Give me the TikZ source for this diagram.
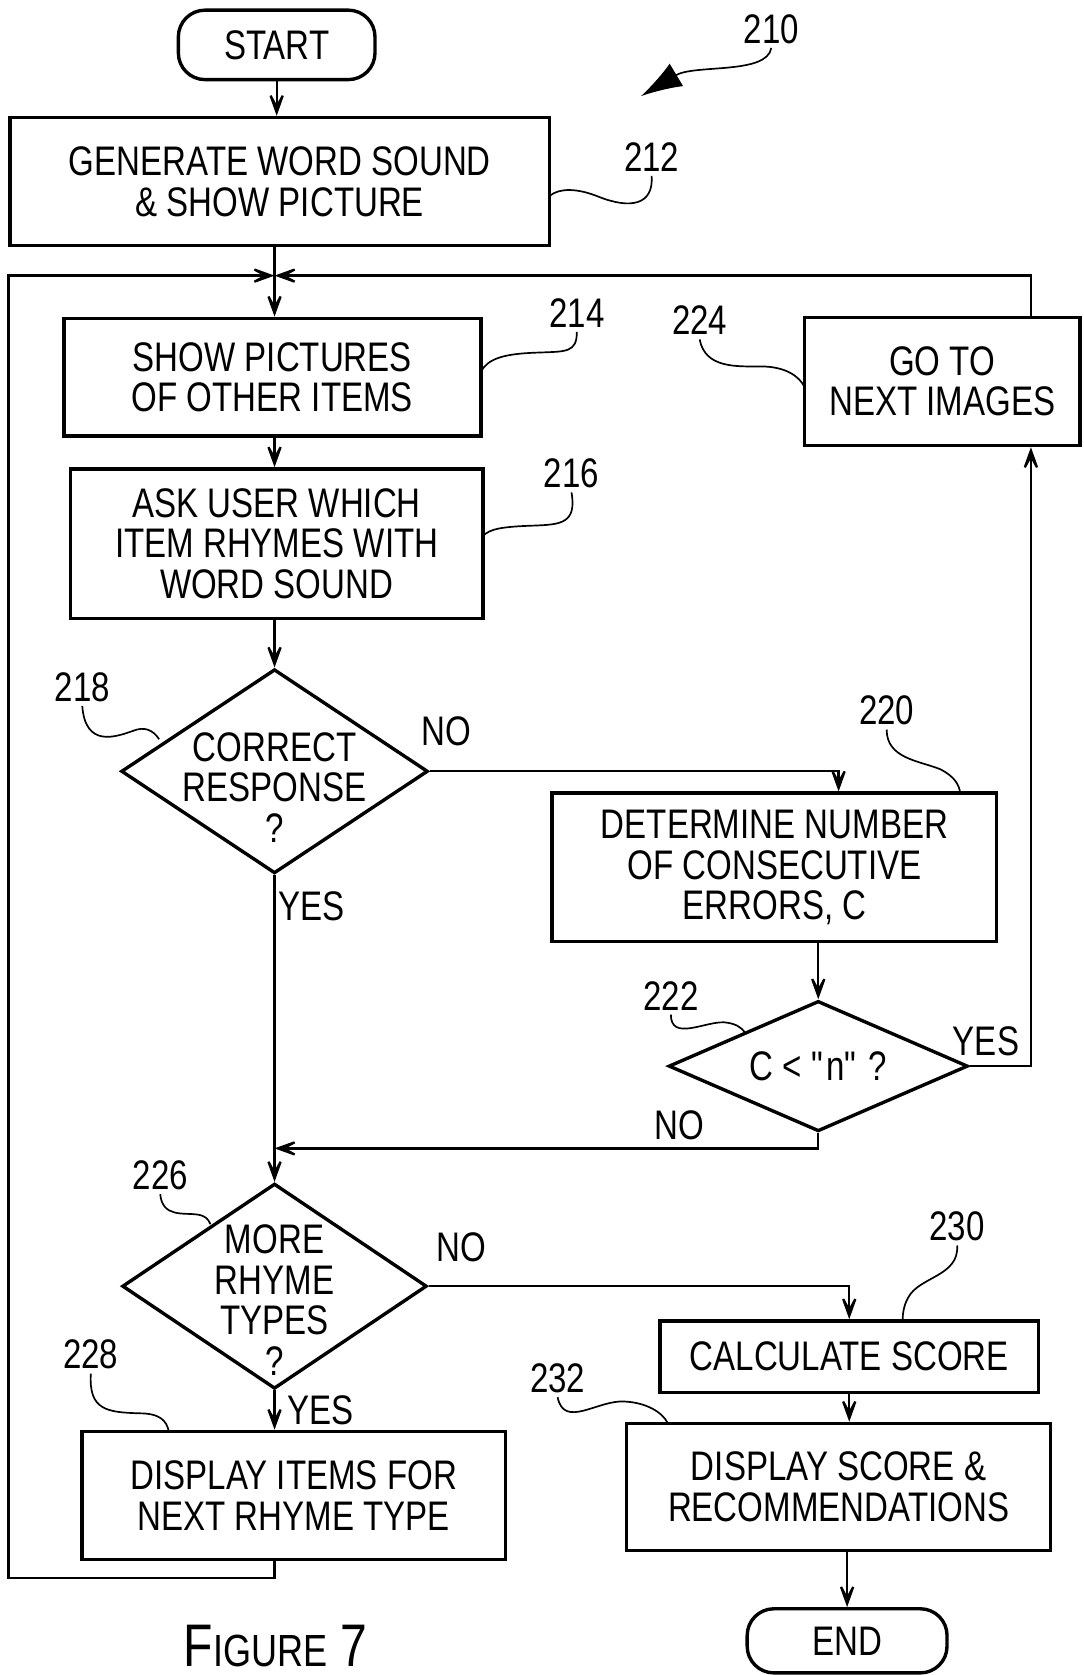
\documentclass[tikz,border=0pt]{standalone}
\usepackage{fontspec}
\setmainfont[FakeStretch=0.8]{Liberation Sans}
\usetikzlibrary{shapes.geometric,arrows.meta}

\begin{document}
\begin{tikzpicture}[
  x=0.01cm,y=-0.01cm,
  font=\fontsize{11pt}{10.8pt}\selectfont,
  box/.style={draw, line width=0.9pt, align=center, inner sep=0pt},
  term/.style={draw, line width=0.9pt, rounded corners=0.25cm, inner sep=0pt},
  decision/.style={draw, diamond, line width=0.9pt, inner sep=0pt},
  num/.style={inner sep=1pt},
  arrow/.style={-{Stealth[length=9pt,width=6.5pt,inset=6pt]}, line width=0.6pt},
  lead/.style={line width=0.45pt}
]
\useasboundingbox (0,0) rectangle (1014,1568);

% left column
\node[term, minimum width=1.84cm, minimum height=0.65cm] (start) at (259,42) {START};
\node[box, minimum width=5.05cm, minimum height=1.2cm] (b212) at (262,170) {GENERATE WORD SOUND\\\& SHOW PICTURE};
\coordinate (jtop) at (257,258);
\node[box, minimum width=3.9cm, minimum height=1.1cm] (b214) at (255,353) {SHOW PICTURES\\OF OTHER ITEMS};
\node[box, minimum width=3.86cm, minimum height=1.4cm] (b216) at (259,509) {ASK USER WHICH\\ITEM RHYMES WITH\\WORD SOUND};
\node[decision, minimum width=2.87cm, minimum height=1.91cm,
  label={[align=center, yshift=-0.15cm]center:CORRECT\\RESPONSE\\?}] (d218) at (257,722) {};
\coordinate (jmid) at (257,1075);
\node[decision, minimum width=2.85cm, minimum height=1.92cm,
  label={[align=center, yshift=-0.13cm]center:MORE\\RHYME\\TYPES\\?}] (d226) at (257,1204) {};
\node[box, minimum width=3.96cm, minimum height=1.2cm] (b228) at (275,1400) {DISPLAY ITEMS FOR\\NEXT RHYME TYPE};

% right column
\node[box, minimum width=2.58cm, minimum height=1.2cm] (b224) at (882,357) {GO TO\\NEXT IMAGES};
\node[box, minimum width=4.16cm, minimum height=1.39cm] (b220) at (725,812) {DETERMINE NUMBER\\OF CONSECUTIVE\\ERRORS, C};
\node[decision, minimum width=2.8cm, minimum height=1.22cm,
  label={center:C < \textquotedbl n\textquotedbl\ ?}] (d222) at (766,998) {};
\node[box, minimum width=3.54cm, minimum height=0.67cm] (b230) at (795,1270) {CALCULATE SCORE};
\node[box, minimum width=3.97cm, minimum height=1.19cm] (b232) at (785,1392) {DISPLAY SCORE \&\\RECOMMENDATIONS};
\node[term, minimum width=1.87cm, minimum height=0.6cm] (end) at (793,1536) {END};

\node[inner sep=0pt, anchor=base] (fig) at (258,1560) {\fontsize{16pt}{16pt}\selectfont F\fontsize{12pt}{12pt}\selectfont IGURE\fontsize{16pt}{16pt}\selectfont\ 7};

% flow
\draw[arrow] (start.south) -- (start.south |- b212.north);
\draw[arrow] (b212.south -| jtop) -- (b214.north -| jtop);
\draw[arrow] (b214.south -| jtop) -- (b216.north -| jtop);
\draw[arrow] (b216.south -| d218.north) -- (d218.north);
\draw[arrow] (d218.east) -| ([xshift=0.6cm]b220.north);
\draw[arrow] (b220.south -| d222.north) -- (d222.north);
\draw[arrow] (d222.east) -| ([xshift=0.83cm]b224.south);
\draw[arrow] ([xshift=0.83cm]b224.north) |- (jtop);
\draw[arrow] (d222.south) |- (jmid);
\draw[arrow] (d218.south) -- (d226.north);
\draw[arrow] (d226.east) -| (b230.north);
\draw[arrow] (d226.south) -- (d226.south |- b228.north);
\draw[arrow] (b230.south) -- (b230.south |- b232.north);
\draw[arrow] (b232.south -| end.north) -- (end.north);
\draw[arrow] (b228.south -| jtop) |- (8,1477) |- (jtop);

% branch labels
\node (no218) at (418,685) {NO};
\node (yes218) at (292,848) {YES};
\node (yes222) at (923,975) {YES};
\node (no222) at (636,1053) {NO};
\node (no226) at (432,1168) {NO};
\node (yes226) at (300,1320) {YES};

% reference numerals
\node[num] (l210) at (722,27) {210};
\node[num] (l212) at (610,147) {212};
\node[num] (l214) at (540,293) {214};
\node[num] (l216) at (535,443) {216};
\node[num] (l218) at (77,643) {218};
\node[num] (l220) at (830,665) {220};
\node[num] (l222) at (628,932) {222};
\node[num] (l224) at (655,300) {224};
\node[num] (l226) at (150,1100) {226};
\node[num] (l228) at (85,1268) {228};
\node[num] (l230) at (896,1148) {230};
\node[num] (l232) at (522,1290) {232};

\draw[lead, -{Latex[length=11pt,width=7pt]}] (l210.south) .. controls (718,70) and (650,60) .. (600,90);
\draw[lead] (l212.south) .. controls (612,192) and (590,196) .. (560,184) .. controls (540,176) and (524,176) .. (515,183);
\draw[lead] (l214.south) .. controls (540,330) and (530,329) .. (505,330) .. controls (470,331) and (457,336) .. (450,348);
\draw[lead] (l216.south) .. controls (540,490) and (525,491) .. (500,492) .. controls (470,493) and (458,495) .. (452,502);
\draw[lead] (l218.south) .. controls (80,700) and (108,690) .. (125,684) .. controls (135,680) and (143,683) .. (149,692);
\draw[lead] (l220.south) .. controls (830,710) and (860,712) .. (880,720) .. controls (894,727) and (898,735) .. (899,743);
\draw[lead] (l222.south) .. controls (628,975) and (660,956) .. (678,957) .. controls (689,958) and (694,962) .. (697,966);
\draw[lead] (l224.south) .. controls (660,345) and (690,343) .. (712,343) .. controls (735,343) and (748,352) .. (753,362);
\draw[lead] (l226.south) .. controls (152,1140) and (172,1135) .. (185,1137) .. controls (192,1138) and (195,1141) .. (197,1146);
\draw[lead] (l228.south) .. controls (83,1320) and (100,1322) .. (130,1323) .. controls (150,1323) and (156,1330) .. (158,1340);
\draw[lead] (l230.south) .. controls (898,1195) and (860,1195) .. (850,1215) .. controls (846,1222) and (845,1230) .. (845,1236);
\draw[lead] (l232.south) .. controls (528,1338) and (560,1310) .. (585,1312) .. controls (605,1313) and (620,1322) .. (625,1332);
\end{tikzpicture}
\end{document}
